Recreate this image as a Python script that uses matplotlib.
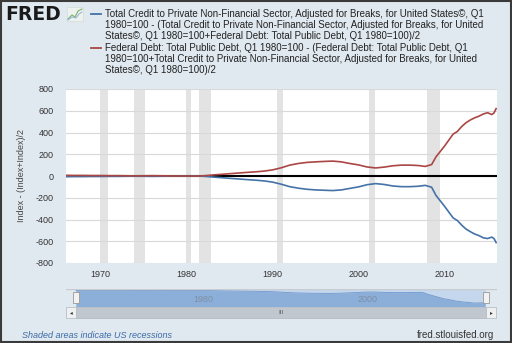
import numpy as np
import matplotlib
matplotlib.use("Agg")
import matplotlib.pyplot as plt
from matplotlib.patches import Rectangle
from matplotlib.lines import Line2D

# ---- data ----
years = [1966, 1967, 1968, 1969, 1970, 1971, 1972, 1973, 1974, 1975,
         1976, 1977, 1978, 1979, 1980, 1981, 1982, 1983, 1984, 1985,
         1986, 1987, 1988, 1989, 1990, 1991, 1992, 1993, 1994, 1995,
         1996, 1997, 1998, 1999, 2000, 2001, 2002, 2003, 2004, 2005,
         2006, 2007, 2007.75, 2008.5, 2009, 2009.5, 2010, 2010.5, 2011, 2011.5,
         2012, 2012.5, 2013, 2013.5, 2014, 2014.5, 2015, 2015.5, 2015.75, 2016.0]

debt_minus_avg = [6, 5, 5, 4, 4, 3, 3, 2, 1, 2,
                  3, 2, 1, 0, 0, -1, 2, 9, 15, 21,
                  27, 33, 38, 45, 56, 75, 100, 115, 125, 130,
                  134, 137, 130, 115, 102, 83, 74, 82, 94, 100,
                  100, 96, 88, 105, 175, 225, 275, 330, 385, 410,
                  455, 490, 515, 535, 550, 570, 582, 565, 580, 620]

credit_minus_avg = [-6, -5, -5, -4, -4, -3, -3, -2, -1, -2,
                    -3, -2, -1, 0, 0, 1, -2, -9, -15, -21,
                    -27, -33, -38, -45, -56, -75, -98, -112, -122, -128,
                    -131, -134, -128, -114, -100, -80, -70, -78, -92, -98,
                    -98, -94, -86, -103, -178, -228, -278, -332, -385, -410,
                    -452, -488, -512, -533, -548, -568, -575, -562, -575, -612]

recessions = [(1969.92, 1970.87), (1973.87, 1975.2), (1980.0, 1980.5),
              (1981.5, 1982.87), (1990.5, 1991.2), (2001.2, 2001.87),
              (2007.92, 2009.45)]

yticks = [-800, -600, -400, -200, 0, 200, 400, 600, 800]
xticks = [1970, 1980, 1990, 2000, 2010]

blue_label = ["Total Credit to Private Non-Financial Sector, Adjusted for Breaks, for United States\u00a9, Q1",
              "1980=100 - (Total Credit to Private Non-Financial Sector, Adjusted for Breaks, for United",
              "States\u00a9, Q1 1980=100+Federal Debt: Total Public Debt, Q1 1980=100)/2"]
red_label = ["Federal Debt: Total Public Debt, Q1 1980=100 - (Federal Debt: Total Public Debt, Q1",
             "1980=100+Total Credit to Private Non-Financial Sector, Adjusted for Breaks, for United",
             "States\u00a9, Q1 1980=100)/2"]

BLUE = "#4572a7"
RED = "#aa4643"
BG = "#e1e9f0"
W, H = 512, 343

plt.rcParams['font.family'] = ['Liberation Sans', 'DejaVu Sans']

fig = plt.figure(figsize=(W / 100, H / 100), dpi=100, facecolor=BG)


def fx(px):
    return px / W


def fy(py):
    return 1 - py / H


# ---- main chart ----
ax = fig.add_axes([fx(66), fy(263), fx(497) - fx(66), fy(89) - fy(263)])
ax.set_facecolor("white")
for s in ax.spines.values():
    s.set_visible(False)
for a, b in recessions:
    ax.axvspan(a, b, color="#e3e3e3", lw=0, zorder=0)
for t in yticks:
    ax.axhline(t, color="#d9d9d9", lw=0.8, zorder=1)
ax.axhline(0, color="black", lw=1.5, zorder=3)
ax.plot(years, credit_minus_avg, color=BLUE, lw=1.2, zorder=4)
ax.plot(years, debt_minus_avg, color=RED, lw=1.2, zorder=4)
ax.set_xlim(1966.0, 2016.1)
ax.set_ylim(-800, 800)
ax.set_yticks(yticks)
ax.set_yticklabels([str(t) for t in yticks])
ax.set_xticks(xticks)
ax.set_xticklabels([str(t) for t in xticks])
ax.tick_params(axis="y", length=0, pad=9, labelsize=6.5, labelcolor="#333333")
ax.tick_params(axis="x", length=0, pad=5, labelsize=6.5, labelcolor="#333333")
ax.set_ylabel("Index - (Index+Index)/2", fontsize=6.5, color="#444444", labelpad=7)

# ---- navigator ----
nav = fig.add_axes([fx(66), fy(306.5), fx(497) - fx(66), fy(289) - fy(306.5)])
nav.set_facecolor(BG)
for s in nav.spines.values():
    s.set_visible(False)
nav.set_xlim(1964.78, 2017.45)
nav.set_ylim(-732, 67)
nav.set_xticks([])
nav.set_yticks([])
nav.axvspan(1966.0, 2016.1, color="#c4d7ec", lw=0, zorder=1)
nav.fill_between(years, credit_minus_avg, -732, color="#8cafd9", lw=0, zorder=2)
nav.plot(years, credit_minus_avg, color="#6f97cc", lw=0.6, zorder=3)
nav.axhline(67, color="#c8ccd0", lw=1.0, zorder=4)
for yr in [1980, 2000]:
    nav.text(yr + 0.4, -420, str(yr), fontsize=6.5, color="#7d8ea6", ha="left",
             va="center", zorder=5)
for hx in [1966.0, 2016.1]:
    nav.add_patch(Rectangle((hx - 0.4, -560), 0.8, 490, facecolor="#f2f2f2",
                            edgecolor="#999999", lw=0.6, zorder=6))

# scrollbar
fig.patches.append(Rectangle((fx(76), fy(318)), fx(486) - fx(76), fy(307) - fy(318),
                             transform=fig.transFigure, facecolor="#c0c7cf",
                             edgecolor="#b0b7bf", lw=0.5))
for bx in [66, 486]:
    fig.patches.append(Rectangle((fx(bx), fy(318)), fx(10), fy(307) - fy(318),
                                 transform=fig.transFigure, facecolor="#eef0f2",
                                 edgecolor="#b0b7bf", lw=0.5))
fig.text(fx(71), fy(312.5), "\u25c2", fontsize=4, color="#333333", ha="center", va="center")
fig.text(fx(491.5), fy(312.5), "\u25b8", fontsize=4, color="#333333", ha="center", va="center")
fig.text(fx(281), fy(312.5), "III", fontsize=4.5, color="#555555", ha="center", va="center")

# ---- header: logo + legend ----
fig.text(fx(5), fy(14), "FRED", fontsize=13.5, fontweight="heavy", color="#1a1a1a",
         family="DejaVu Sans", ha="left", va="center")
fig.patches.append(Rectangle((fx(67), fy(21)), fx(16), fy(7) - fy(21),
                             transform=fig.transFigure, facecolor="#eef2ee",
                             edgecolor="#d0d6d0", lw=0.4))
fig.lines.append(Line2D([fx(68), fx(72), fx(75), fx(78), fx(82)],
                        [fy(19), fy(15), fy(17), fy(11), fy(9)],
                        transform=fig.transFigure, color="#7cb36a", lw=0.8))
fig.lines.append(Line2D([fx(68), fx(72), fx(76), fx(79), fx(82)],
                        [fy(20), fy(17), fy(18), fy(14), fy(12)],
                        transform=fig.transFigure, color="#8fb0d8", lw=0.7))

fig.lines.append(Line2D([fx(91), fx(101)], [fy(13.5), fy(13.5)],
                        transform=fig.transFigure, color=BLUE, lw=1.3))
fig.lines.append(Line2D([fx(91), fx(101)], [fy(48), fy(48)],
                        transform=fig.transFigure, color=RED, lw=1.3))
for i, line in enumerate(blue_label):
    fig.text(fx(105), fy(14 + 10.8 * i), line, fontsize=7.0, color="#222222",
             ha="left", va="center")
for i, line in enumerate(red_label):
    fig.text(fx(105), fy(48 + 10.8 * i), line, fontsize=7.0, color="#222222",
             ha="left", va="center")

# ---- footer ----
fig.text(fx(22), fy(335), "Shaded areas indicate US recessions", fontsize=6.5,
         style="italic", color="#3b6aa5", ha="left", va="center")
fig.text(fx(494), fy(335.5), "fred.stlouisfed.org", fontsize=7, color="#333333",
         ha="right", va="center")

# outer border
fig.patches.append(Rectangle((0.001, 0.002), 0.997, 0.996, transform=fig.transFigure,
                             facecolor="none", edgecolor="#3a3a3a", lw=1.5))

fig.savefig("out.png", dpi=100, facecolor=BG)
